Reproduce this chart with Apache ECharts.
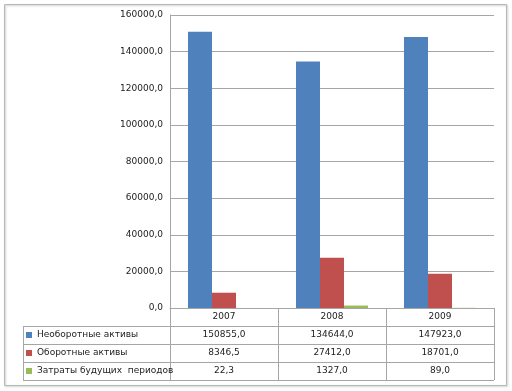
<!DOCTYPE html>
<html><head><meta charset="utf-8">
<script src="https://cdn.jsdelivr.net/npm/echarts@6/dist/echarts.min.js"></script>
<style>html,body{margin:0;padding:0;background:#fff}#c{width:512px;height:391px}</style>
</head><body><div id="c"></div>
<script>
var years = ['2007', '2008', '2009'];
var seriesNames = ['Необоротные активы', 'Оборотные активы', 'Затраты будущих  периодов'];
var nonCurrent = [150855.0, 134644.0, 147923.0];
var current = [8346.5, 27412.0, 18701.0];
var deferred = [22.3, 1327.0, 89.0];
var colors = ['#4F81BD', '#C0504D', '#9BBB59'];
var yTicks = {min: 0, max: 160000, interval: 20000};

var all = [nonCurrent, current, deferred];
function fmt(v) { return v.toFixed(1).replace('.', ','); }
var font = 'DejaVu Sans';
var chart = echarts.init(document.getElementById('c'));
var gridLine = '#a6a6a6';
var rowsY = [326, 344, 362, 380];
var graphics = [
  {type: 'rect', shape: {x: 4.5, y: 4.5, width: 502, height: 381}, style: {fill: 'none', stroke: '#b8b8b8', lineWidth: 1, shadowColor: 'rgba(0,0,0,0.25)', shadowBlur: 2, shadowOffsetX: 1, shadowOffsetY: 1}, z: 0},
  {type: 'line', shape: {x1: 23.5, y1: 326, x2: 23.5, y2: 380}, style: {stroke: gridLine, lineWidth: 1}}
];
rowsY.forEach(function (y) {
  graphics.push({type: 'line', shape: {x1: 23, y1: y + 0.5, x2: 494, y2: y + 0.5}, style: {stroke: gridLine, lineWidth: 1}});
});
chart.setOption({
  animation: false,
  color: colors,
  textStyle: {fontFamily: font},
  grid: {left: 170, right: 18, top: 15, bottom: 83},
  legend: {
    data: seriesNames, orient: 'vertical', left: 26, top: 326, itemGap: 0,
    itemWidth: 6, itemHeight: 6, icon: 'rect', padding: 0,
    textStyle: {fontFamily: font, fontSize: 9, color: '#222', lineHeight: 18, padding: [0, 0, 0, 0]}
  },
  xAxis: {
    type: 'category', data: years,
    axisLine: {lineStyle: {color: gridLine}},
    axisTick: {show: true, length: 72, lineStyle: {color: gridLine}},
    axisLabel: {
      margin: 0, fontFamily: font, fontSize: 9, color: '#222', lineHeight: 18,
      formatter: function (v, i) {
        return [v, fmt(nonCurrent[i]), fmt(current[i]), fmt(deferred[i])].join('\n');
      }
    }
  },
  yAxis: {
    type: 'value', min: yTicks.min, max: yTicks.max, interval: yTicks.interval,
    axisLine: {show: true, lineStyle: {color: gridLine}},
    axisTick: {show: false},
    splitLine: {lineStyle: {color: gridLine}},
    axisLabel: {margin: 7, fontFamily: font, fontSize: 9, color: '#222', formatter: function (v) { return fmt(v); }}
  },
  series: all.map(function (d, i) {
    return {name: seriesNames[i], type: 'bar', data: d, barGap: '0%', barCategoryGap: '33.3%',
      itemStyle: {color: colors[i]}};
  }),
  graphic: graphics
});
</script></body></html>
